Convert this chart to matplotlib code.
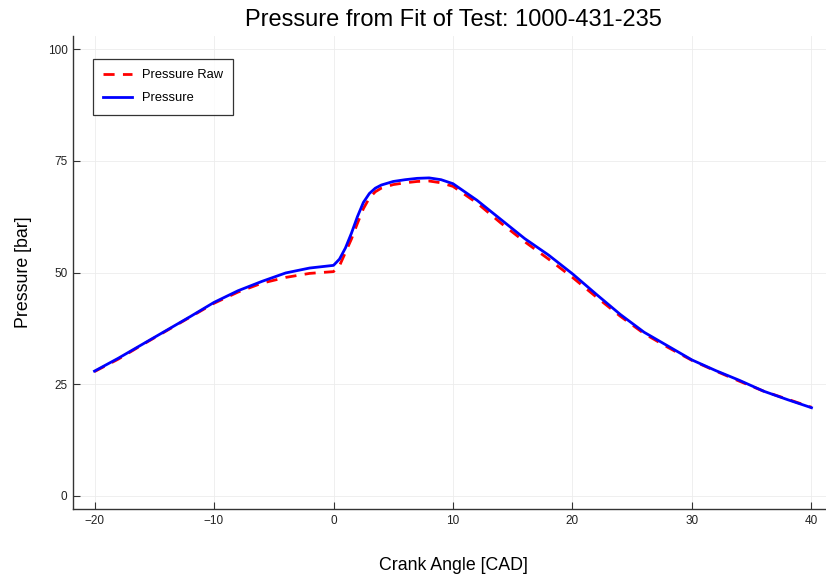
import matplotlib
matplotlib.use("Agg")
import matplotlib.pyplot as plt

plt.rcParams['font.family'] = ['Liberation Sans', 'DejaVu Sans']

# Angulo de manivela [CAD]
angulo = [-20, -18, -16, -14, -12, -10, -8, -6, -4, -2, -1, 0,
          0.5, 1, 1.5, 2, 2.5, 3, 3.5, 4, 5, 6, 7, 8, 9, 10,
          12, 14, 16, 18, 20, 22, 24, 26, 28, 30, 32, 34, 36, 38, 40]

# Pressao medida (raw) [bar]
pressao_raw = [27.8, 30.6, 33.8, 36.9, 40.0, 43.1, 45.6, 47.6, 48.9, 49.8, 50.0, 50.2,
               51.5, 54.5, 57.5, 61.0, 64.3, 66.7, 68.1, 68.9, 69.7, 70.1, 70.4, 70.5, 70.1, 69.3,
               65.6, 61.1, 56.9, 53.0, 48.9, 44.5, 40.2, 36.3, 33.2, 30.3, 27.9, 25.6, 23.4, 21.6, 19.8]

# Pressao do ajuste [bar]
pressao_fit = [27.9, 30.8, 33.9, 37.0, 40.1, 43.3, 45.9, 48.0, 49.9, 51.0, 51.3, 51.6,
               53.0, 55.5, 58.8, 62.5, 65.7, 67.7, 68.9, 69.6, 70.4, 70.8, 71.1, 71.2, 70.8, 69.9,
               66.2, 61.9, 57.6, 53.9, 49.7, 45.1, 40.6, 36.6, 33.5, 30.4, 28.0, 25.8, 23.4, 21.5, 19.7]

xticks = [-20, -10, 0, 10, 20, 30, 40]
yticks = [0, 25, 50, 75, 100]

fig = plt.figure(figsize=(8.26, 5.8), dpi=100)
ax = fig.add_axes([73 / 826, 71 / 580, 760 / 826, 473 / 580])

ax.plot(angulo, pressao_raw, color='#ff0000', lw=2, ls=(0, (4, 3)), label='Pressure Raw')
ax.plot(angulo, pressao_fit, color='#0000ff', lw=2, label='Pressure')

ax.set_xlim(-21.8, 41.8)
ax.set_ylim(-3, 103)
ax.set_xticks(xticks)
ax.set_yticks(yticks)
ax.grid(True, color='#ececec', lw=0.6)
ax.set_axisbelow(True)

for lado in ['top', 'right']:
    ax.spines[lado].set_visible(False)
for lado in ['left', 'bottom']:
    ax.spines[lado].set_color('#333333')
    ax.spines[lado].set_linewidth(1.0)

ax.tick_params(direction='in', length=5, width=0.8, color='#333333',
               labelsize=8.5, labelcolor='#222222', pad=4)

ax.set_title('Pressure from Fit of Test: 1000-431-235', fontsize=17, pad=7)
ax.set_xlabel('Crank Angle [CAD]', fontsize=12.8, labelpad=22)
ax.set_ylabel('Pressure [bar]', fontsize=12.8, labelpad=11)

leg = ax.legend(loc='upper left', bbox_to_anchor=(20 / 760, 1 - 23 / 473),
                fontsize=9.3, frameon=True, fancybox=False, handlelength=2.2,
                handletextpad=0.77, borderpad=0.8, labelspacing=0.84,
                borderaxespad=0)
leg.get_frame().set_edgecolor('#000000')
leg.get_frame().set_linewidth(0.9)

fig.savefig('out.png', dpi=100)
